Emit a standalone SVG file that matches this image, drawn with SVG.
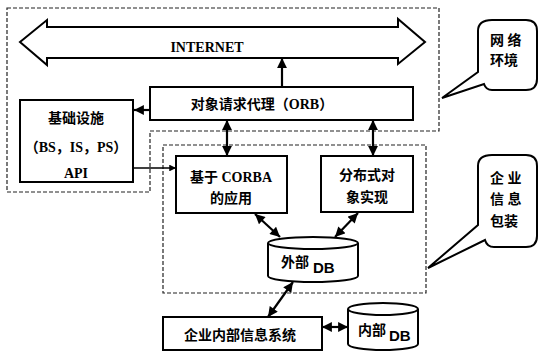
<svg xmlns="http://www.w3.org/2000/svg" width="538" height="352" viewBox="0 0 538 352">
<defs>
<marker id="ah" viewBox="0 0 10 10" refX="10" refY="5" markerWidth="5" markerHeight="4.5" orient="auto-start-reverse" markerUnits="strokeWidth">
<path d="M0,0 L10,5 L0,10 Z" fill="#000"/>
</marker>
<style>
.dash{fill:none;stroke:#222;stroke-width:1.2;stroke-dasharray:4 2}
.box{fill:#fff;stroke:#000;stroke-width:2}
.ln{fill:none;stroke:#000;stroke-width:2.2}
.t{font-family:"Liberation Serif","Noto Sans CJK SC",serif;font-size:14px;font-weight:bold;fill:#000}
.s{font-family:"Liberation Sans","Noto Sans CJK SC",sans-serif;font-size:15px;font-weight:bold;fill:#000}
</style>
</defs>
<rect width="538" height="352" fill="#fff"/>
<g id="regions">
<polygon class="dash" points="7,8 439,8 439,131 150,131 150,192 7,192"/>
<rect class="dash" x="163" y="145" width="263" height="148"/>
</g>
<g id="internet">
<path d="M20,42 L47,20 L47,27 L398,27 L398,19 L425,42 L398,64 L398,58 L47,58 L47,65 Z" fill="#fff" stroke="#000" stroke-width="2"/>
<text class="t" x="207" y="52" text-anchor="middle">INTERNET</text>
</g>
<g id="orb">
<rect class="box" x="150" y="87" width="263" height="33"/>
<text class="t" x="262" y="109" text-anchor="middle">对象请求代理（ORB）</text>
</g>
<g id="infra">
<rect class="box" x="20" y="100" width="113" height="82"/>
<text class="t" x="76" y="123" text-anchor="middle">基础设施</text>
<text class="t" x="76" y="152" text-anchor="middle">（BS，IS，PS）</text>
<text class="t" x="76" y="178" text-anchor="middle">API</text>
</g>
<g id="corba">
<rect class="box" x="176" y="156" width="111" height="57"/>
<text class="t" x="231" y="182" text-anchor="middle">基于 CORBA</text>
<text class="t" x="231" y="203" text-anchor="middle">的应用</text>
</g>
<g id="dist">
<rect class="box" x="321" y="156" width="92" height="56"/>
<text class="t" x="367" y="180" text-anchor="middle">分布式对</text>
<text class="t" x="367" y="202" text-anchor="middle">象实现</text>
</g>
<g id="extdb">
<path class="box" d="M268,243 A45,6 0 0,1 358,243 L358,276 A45,6 0 0,1 268,276 Z"/>
<path class="ln" style="stroke-width:2" d="M268,243 A45,6 0 0,0 358,243"/>
<text class="t" x="281" y="267">外部</text>
<text class="s" x="313" y="273">DB</text>
</g>
<g id="eis">
<rect class="box" x="163" y="317" width="159" height="33"/>
<text class="t" x="240" y="340" text-anchor="middle">企业内部信息系统</text>
</g>
<g id="intdb">
<path class="box" d="M348,309 A35,6 0 0,1 418,309 L418,344 A35,6 0 0,1 348,344 Z"/>
<path class="ln" style="stroke-width:2" d="M348,309 A35,6 0 0,0 418,309"/>
<text class="t" x="358" y="335">内部</text>
<text class="s" x="389" y="341">DB</text>
</g>
<g id="callout-net">
<path d="M492,20 L526,20 Q537,20 537,31 L537,79 Q537,90 526,90 L492,90 Q486,90 484,84 L442,98 L478,72 L478,31 Q478,20 492,20 Z" fill="#fff" stroke="#000" stroke-width="2"/>
<text class="t" x="490" y="45">网 络</text>
<text class="t" x="490" y="65">环境</text>
</g>
<g id="callout-ent">
<path d="M492,155 L526,155 Q537,155 537,166 L537,236 Q537,247 526,247 L494,247 Q487,247 485,240 L428,268 L478,225 L478,166 Q478,155 492,155 Z" fill="#fff" stroke="#000" stroke-width="2"/>
<text class="t" x="490" y="183">企 业</text>
<text class="t" x="490" y="204">信 息</text>
<text class="t" x="490" y="226">包装</text>
</g>
<g id="connectors">
<line class="ln" x1="282" y1="87" x2="282" y2="58" marker-end="url(#ah)"/>
<line class="ln" x1="150" y1="110" x2="134" y2="110" marker-end="url(#ah)"/>
<line class="ln" style="stroke-width:1.5" x1="133" y1="168" x2="176" y2="168" marker-end="url(#ah)"/>
<line class="ln" x1="227" y1="120" x2="227" y2="156" marker-start="url(#ah)" marker-end="url(#ah)"/>
<line class="ln" x1="373" y1="120" x2="373" y2="156" marker-start="url(#ah)" marker-end="url(#ah)"/>
<line class="ln" x1="255" y1="214" x2="280" y2="237" marker-start="url(#ah)" marker-end="url(#ah)"/>
<line class="ln" x1="358" y1="213" x2="335" y2="237" marker-start="url(#ah)" marker-end="url(#ah)"/>
<line class="ln" x1="293" y1="282" x2="268" y2="317" marker-start="url(#ah)" marker-end="url(#ah)"/>
<line class="ln" x1="322" y1="327" x2="348" y2="327" marker-start="url(#ah)" marker-end="url(#ah)"/>
</g>
</svg>
